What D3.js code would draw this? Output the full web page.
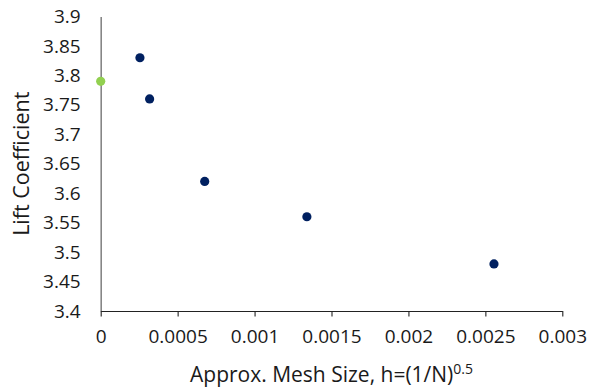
<!DOCTYPE html>
<html>
<head>
<meta charset="utf-8">
<script src="https://cdn.jsdelivr.net/npm/d3@7"></script>
<style>
  html, body { margin: 0; padding: 0; background: #fff; }
  svg text { font-family: "Open Sans", "Noto Sans", sans-serif; fill: #1a1a1a; }
</style>
</head>
<body>
<svg id="chart" width="590" height="392"></svg>
<script>
// Mesh refinement study: lift coefficient vs. approximate mesh size
const meshSize = [0.000255, 0.000318, 0.000676, 0.00134, 0.002556];
const liftCoeff = [3.83, 3.76, 3.62, 3.56, 3.48];
// Extrapolated value at zero mesh size
const extrapSize = [0];
const extrapLift = [3.79];

const xTicks = [0, 0.0005, 0.001, 0.0015, 0.002, 0.0025, 0.003];
const yTicks = [3.4, 3.45, 3.5, 3.55, 3.6, 3.65, 3.7, 3.75, 3.8, 3.85, 3.9];

const svg = d3.select("#chart");
const plotLeft = 100.7, plotRight = 562.3, plotTop = 16.5, plotBottom = 311;

const x = d3.scaleLinear().domain([0, 0.003]).range([plotLeft, plotRight]);
const y = d3.scaleLinear().domain([3.4, 3.9]).range([plotBottom, plotTop]);

// Y axis: grey line, no tick marks
const yAxis = svg.append("g")
  .attr("transform", `translate(${plotLeft},0)`)
  .call(d3.axisLeft(y).tickValues(yTicks).tickSize(0).tickPadding(20)
    .tickFormat(d => String(+d.toFixed(2))));
yAxis.select(".domain").attr("stroke", "#868686").attr("stroke-width", 1.6);
yAxis.selectAll("text").attr("font-size", 19).attr("font-family", "Open Sans").attr("fill", "#1a1a1a");

// X axis: dark line with outward ticks
const xAxis = svg.append("g")
  .attr("transform", `translate(0,${plotBottom})`)
  .call(d3.axisBottom(x).tickValues(xTicks).tickSizeInner(5.5).tickSizeOuter(0).tickPadding(13)
    .tickFormat(d => String(+d.toFixed(4))));
xAxis.select(".domain").attr("stroke", "#222").attr("stroke-width", 1.1);
xAxis.selectAll(".tick line").attr("stroke", "#222").attr("stroke-width", 1.1);
xAxis.selectAll("text").attr("font-size", 19).attr("font-family", "Open Sans").attr("fill", "#1a1a1a");

// Axis titles
const xTitle = svg.append("text")
  .attr("x", (plotLeft + plotRight) / 2)
  .attr("y", 382)
  .attr("text-anchor", "middle")
  .attr("font-size", 21);
xTitle.append("tspan").text("Approx. Mesh Size, h=(1/N)");
xTitle.append("tspan").attr("font-size", 14).attr("dy", -8).text("0.5");

svg.append("text")
  .attr("transform", `translate(28.5,${(plotTop + plotBottom) / 2}) rotate(-90)`)
  .attr("text-anchor", "middle")
  .attr("font-size", 21.5)
  .text("Lift Coefficient");

// Data points
svg.append("g").selectAll("circle")
  .data(meshSize.map((d, i) => [d, liftCoeff[i]]))
  .join("circle")
  .attr("cx", d => x(d[0]))
  .attr("cy", d => y(d[1]))
  .attr("r", 4.6)
  .attr("fill", "#002060");

svg.append("g").selectAll("circle")
  .data(extrapSize.map((d, i) => [d, extrapLift[i]]))
  .join("circle")
  .attr("cx", d => x(d[0]))
  .attr("cy", d => y(d[1]))
  .attr("r", 4.6)
  .attr("fill", "#92D050");
</script>
</body>
</html>
